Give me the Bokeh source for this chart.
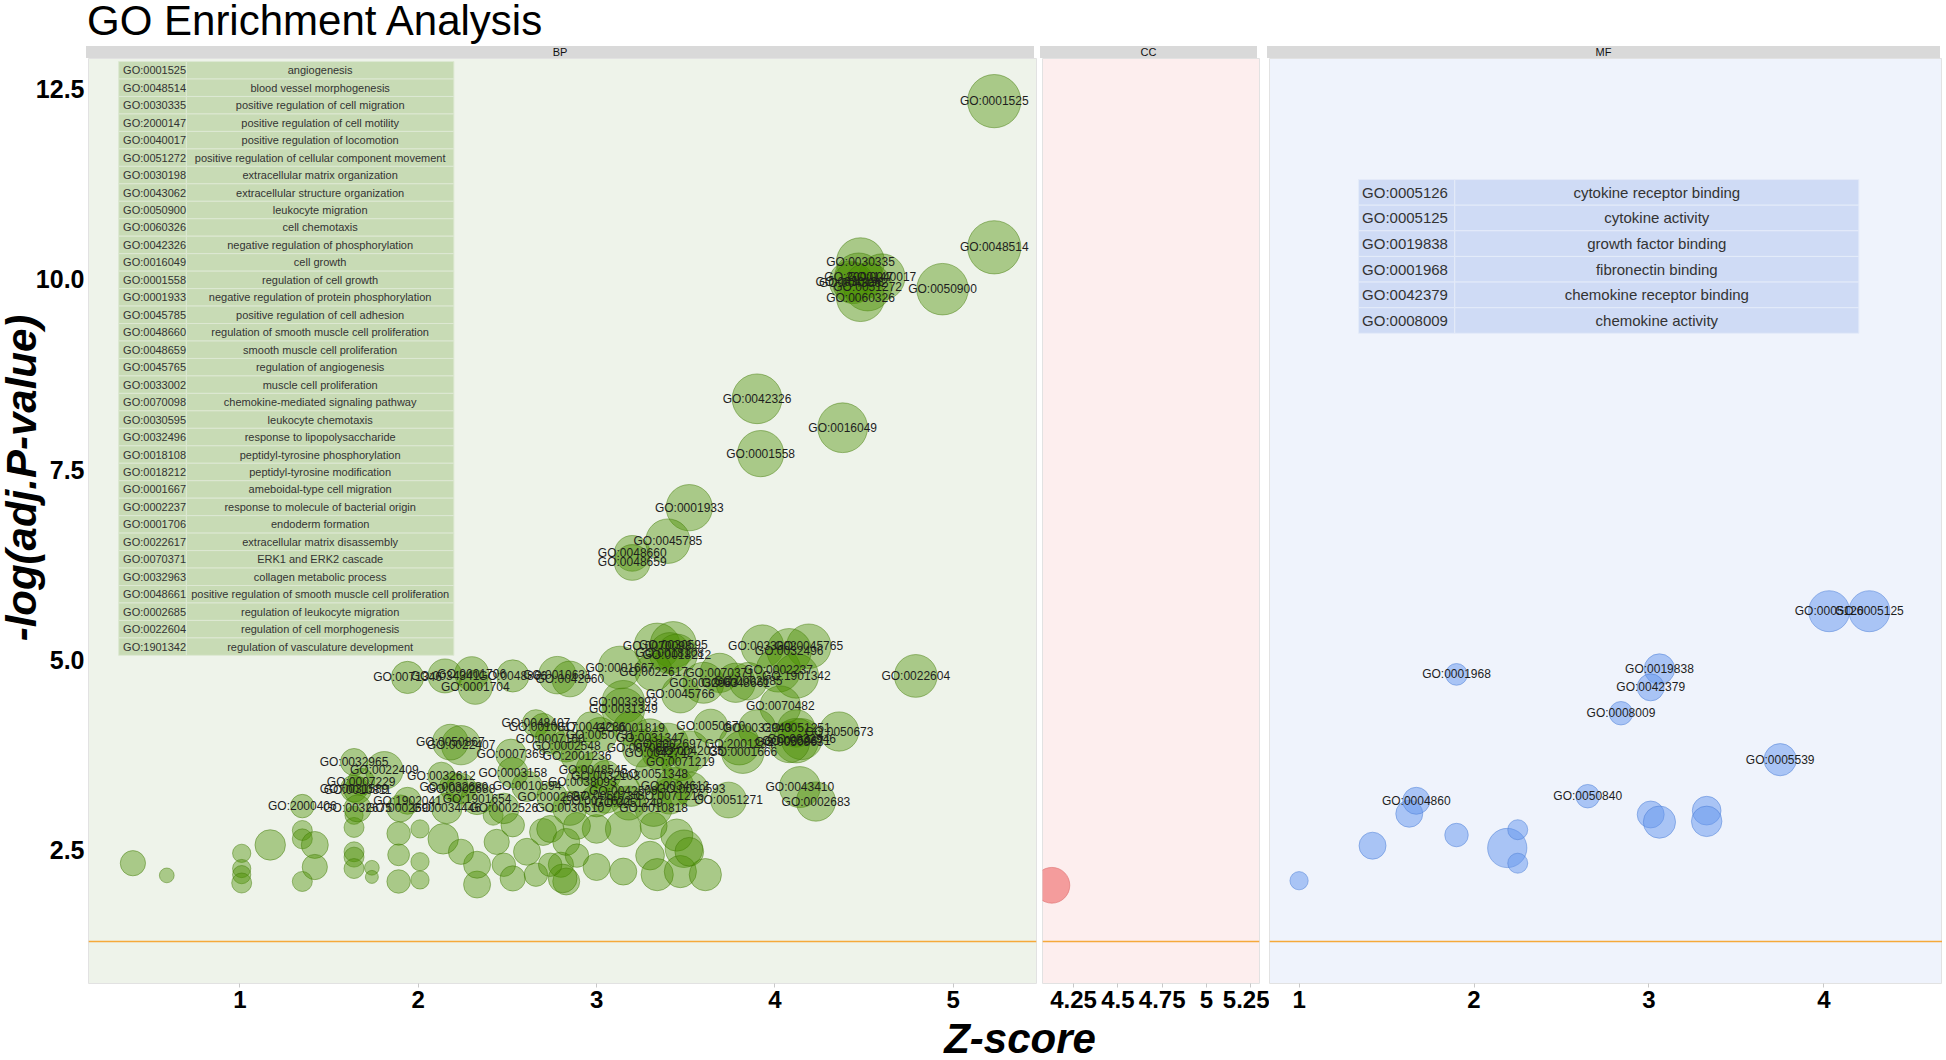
import math
from bokeh.plotting import figure
from bokeh.models import Range1d, FixedTicker, Div, Spacer, Span
from bokeh.layouts import row, column
from bokeh.embed import file_html
from bokeh.resources import INLINE
from bokeh.core.properties import value

FONT = "Liberation Sans"

# ---------------- data ----------------
# BP, labelled terms: id, z-score, -log10(adj.P), gene count
bp_id = ["GO:0001525", "GO:0048514", "GO:0030335", "GO:2000147", "GO:0040017", "GO:0030198", "GO:0043062",
         "GO:0051272", "GO:0060326", "GO:0050900", "GO:0042326", "GO:0016049", "GO:0001558", "GO:0001933",
         "GO:0045785", "GO:0048660", "GO:0048659",
         "GO:0070098", "GO:0030595", "GO:0018108", "GO:0018212", "GO:0033002", "GO:0045765", "GO:0032496",
         "GO:0001667", "GO:0022617", "GO:0070371", "GO:0032963", "GO:0048661", "GO:0002685", "GO:0002237",
         "GO:1901342", "GO:0022604", "GO:0045766", "GO:0071346", "GO:0034341", "GO:0001706", "GO:0048866",
         "GO:0001704", "GO:0010631", "GO:0042060", "GO:0033993", "GO:0031349", "GO:0070482", "GO:0050673",
         "GO:0048407", "GO:0010817", "GO:0044236", "GO:0001819", "GO:0050670", "GO:0032943", "GO:0051251",
         "GO:0050671", "GO:0032946", "GO:0050863", "GO:0007160", "GO:0050731", "GO:0002548", "GO:2001236",
         "GO:2001234", "GO:0001666", "GO:0071219", "GO:0031347", "GO:0002697", "GO:0070663", "GO:0042035",
         "GO:0042742", "GO:0022407", "GO:0050867", "GO:0007369", "GO:0032965", "GO:0022409", "GO:0032612",
         "GO:0003158", "GO:0048545", "GO:0032103", "GO:0051348", "GO:0007229", "GO:0031589", "GO:0010811",
         "GO:0010594", "GO:0043410", "GO:0002683", "GO:0051271", "GO:0034612", "GO:0030593", "GO:0071216",
         "GO:0042509", "GO:0050730", "GO:0038093", "GO:0002688", "GO:0032680", "GO:1902041", "GO:2000406",
         "GO:0032675", "GO:0034446", "GO:0002690", "GO:1901654", "GO:0002526", "GO:0030510", "GO:0010818",
         "GO:0071622", "GO:0051249", "GO:0002687"]
bp_z = [5.23, 5.23, 4.48, 4.47, 4.60, 4.42, 4.44, 4.52, 4.48, 4.94, 3.90, 4.38, 3.92, 3.52, 3.40, 3.20, 3.20,
        3.34, 3.43, 3.41, 3.45, 3.93, 4.19, 4.08, 3.13, 3.32, 3.69, 3.60, 3.78, 3.85, 4.02, 4.12, 4.79, 3.47,
        1.94, 2.15, 2.30, 2.53, 2.32, 2.78, 2.85, 3.15, 3.15, 4.03, 4.36,
        2.66, 2.70, 2.97, 3.19, 3.64, 3.90, 4.12, 4.12, 4.15, 4.08, 2.74, 3.02, 2.83, 2.89, 3.80, 3.82, 3.47,
        3.30, 3.40, 3.25, 3.52, 3.35, 2.24, 2.18, 2.52, 1.64, 1.81, 2.13, 2.53, 2.98, 3.05, 3.32, 1.68, 1.64,
        1.66, 2.61, 4.14, 4.23, 3.74, 3.44, 3.53, 3.41, 3.15, 3.05, 2.92, 2.24, 2.20, 1.94, 1.35, 1.66, 2.16,
        1.90, 2.33, 2.48, 2.85, 3.32, 3.00, 3.18, 2.75]
bp_logp = [12.34, 10.42, 10.23, 10.03, 10.03, 9.97, 9.95, 9.90, 9.76, 9.87, 8.43, 8.05, 7.71, 7.00, 6.56, 6.40,
           6.28, 5.18, 5.20, 5.09, 5.07, 5.18, 5.18, 5.12, 4.90, 4.84, 4.83, 4.70, 4.70, 4.72, 4.87, 4.79, 4.79,
           4.55, 4.77, 4.79, 4.82, 4.79, 4.64, 4.80, 4.75, 4.45, 4.35, 4.39, 4.06,
           4.17, 4.12, 4.12, 4.10, 4.13, 4.10, 4.10, 3.94, 3.96, 3.92, 3.96, 4.02, 3.87, 3.74, 3.89, 3.79, 3.66,
           3.98, 3.90, 3.84, 3.80, 3.78, 3.88, 3.92, 3.76, 3.66, 3.55, 3.48, 3.52, 3.56, 3.48, 3.50, 3.40, 3.31,
           3.29, 3.34, 3.33, 3.14, 3.16, 3.34, 3.30, 3.21, 3.28, 3.21, 3.40, 3.31, 3.33, 3.15, 3.08, 3.05, 3.05,
           3.05, 3.18, 3.05, 3.05, 3.06, 3.15, 3.12, 3.20]
bp_count = [27, 27, 24, 24, 23, 20, 20, 24, 24, 26, 25, 25, 23, 23, 22, 17, 17,
            23, 23, 20, 20, 21, 22, 22, 21, 18, 19, 20, 19, 18, 22, 22, 21, 18, 15, 16, 16, 15, 16, 18, 17, 21,
            21, 20, 19,
            12, 12, 14, 16, 16, 18, 18, 22, 20, 20, 14, 16, 15, 15, 20, 21, 18, 18, 20, 18, 20, 16, 19, 17, 14,
            12, 18, 12, 14, 16, 14, 18, 12, 12, 12, 14, 20, 19, 17, 18, 16, 17, 16, 16, 15, 14, 13, 12, 10, 12,
            14, 12, 15, 14, 16, 18, 15, 16, 14]

# BP, unlabelled terms
bp2_z = [0.40, 0.59, 1.01, 1.01, 1.01, 1.01, 1.17, 1.35, 1.35, 1.42, 1.42, 1.35, 1.64, 1.64, 1.64, 1.64, 1.64,
         1.74, 1.74, 1.89, 1.89, 1.89, 2.01, 2.01, 2.01, 2.14, 2.33, 2.33, 2.24, 2.44, 2.48, 2.53, 2.61, 2.66,
         2.80, 2.83, 2.70, 2.53, 2.42, 2.74, 2.83, 2.81, 2.74, 3.00, 3.00, 3.15, 3.15, 2.89, 3.30, 3.34, 3.45,
         3.49, 3.47, 3.61, 3.52, 3.32, 2.89]
bp2_logp = [2.33, 2.17, 2.46, 2.26, 2.18, 2.07, 2.57, 2.76, 2.65, 2.57, 2.28, 2.09, 2.96, 2.80, 2.48, 2.41, 2.26,
            2.27, 2.15, 2.72, 2.44, 2.09, 2.78, 2.35, 2.11, 2.65, 2.05, 2.31, 2.48, 2.61, 2.31, 2.13, 2.48, 2.18,
            2.31, 2.09, 2.74, 2.83, 2.96, 2.78, 2.61, 2.13, 2.31, 2.78, 2.28, 2.78, 2.22, 2.43, 2.43, 2.18, 2.70,
            2.52, 2.22, 2.18, 2.48, 2.82, 2.82]
bp2_count = [11, 5, 7, 7, 7, 8, 14, 8, 8, 12, 11, 8, 7, 8, 8, 8, 8, 5, 4, 10, 9, 10, 7, 7, 7, 14, 12, 12, 11, 11,
             10, 11, 12, 10, 11, 12, 12, 10, 8, 12, 12, 13, 10, 13, 12, 17, 12, 10, 13, 15, 15, 18, 15, 15, 13,
             12, 12]

# CC
cc_z = [4.128]
cc_logp = [2.04]
cc_count = [17]

# MF, labelled
mf_id = ["GO:0005126", "GO:0005125", "GO:0001968", "GO:0019838", "GO:0042379", "GO:0008009", "GO:0005539",
         "GO:0050840", "GO:0004860"]
mf_z = [4.03, 4.26, 1.90, 3.06, 3.01, 2.84, 3.75, 2.65, 1.67]
mf_logp = [5.64, 5.64, 4.81, 4.88, 4.64, 4.30, 3.69, 3.21, 3.15]
mf_count = [20, 20, 9, 14, 12, 10, 15, 10, 12]
# MF, unlabelled
mf2_z = [1.63, 1.00, 1.42, 1.90, 2.19, 2.25, 2.25, 3.01, 3.06, 3.33, 3.33]
mf2_logp = [2.98, 2.10, 2.56, 2.70, 2.53, 2.77, 2.33, 2.97, 2.87, 3.02, 2.88]
mf2_count = [12, 7, 12, 10, 19, 8, 8, 12, 15, 13, 14]

# tables
bp_table_id = ["GO:0001525", "GO:0048514", "GO:0030335", "GO:2000147", "GO:0040017", "GO:0051272", "GO:0030198",
               "GO:0043062", "GO:0050900", "GO:0060326", "GO:0042326", "GO:0016049", "GO:0001558", "GO:0001933",
               "GO:0045785", "GO:0048660", "GO:0048659", "GO:0045765", "GO:0033002", "GO:0070098", "GO:0030595",
               "GO:0032496", "GO:0018108", "GO:0018212", "GO:0001667", "GO:0002237", "GO:0001706", "GO:0022617",
               "GO:0070371", "GO:0032963", "GO:0048661", "GO:0002685", "GO:0022604", "GO:1901342"]
bp_table_term = ["angiogenesis", "blood vessel morphogenesis", "positive regulation of cell migration",
                 "positive regulation of cell motility", "positive regulation of locomotion",
                 "positive regulation of cellular component movement", "extracellular matrix organization",
                 "extracellular structure organization", "leukocyte migration", "cell chemotaxis",
                 "negative regulation of phosphorylation", "cell growth", "regulation of cell growth",
                 "negative regulation of protein phosphorylation", "positive regulation of cell adhesion",
                 "regulation of smooth muscle cell proliferation", "smooth muscle cell proliferation",
                 "regulation of angiogenesis", "muscle cell proliferation", "chemokine-mediated signaling pathway",
                 "leukocyte chemotaxis", "response to lipopolysaccharide", "peptidyl-tyrosine phosphorylation",
                 "peptidyl-tyrosine modification", "ameboidal-type cell migration",
                 "response to molecule of bacterial origin", "endoderm formation",
                 "extracellular matrix disassembly", "ERK1 and ERK2 cascade", "collagen metabolic process",
                 "positive regulation of smooth muscle cell proliferation", "regulation of leukocyte migration",
                 "regulation of cell morphogenesis", "regulation of vasculature development"]
mf_table_id = ["GO:0005126", "GO:0005125", "GO:0019838", "GO:0001968", "GO:0042379", "GO:0008009"]
mf_table_term = ["cytokine receptor binding", "cytokine activity", "growth factor binding", "fibronectin binding",
                 "chemokine receptor binding", "chemokine activity"]

p_cutoff = 0.05
y_ticks = [2.5, 5.0, 7.5, 10.0, 12.5]
bp_ticks = [1, 2, 3, 4, 5]
cc_ticks = [4.25, 4.5, 4.75, 5.0, 5.25]
mf_ticks = [1, 2, 3, 4]

# ---------------- layout ----------------
Y_RANGE = Range1d(0.75, 12.9)
TITLE_H = 46
STRIP_H = 12
FRAME_H = 925
AXIS_H = 36
XLAB_H = 40
YLAB_W = 32
LEFT = 86
W_BP, W_CC, W_MF = 948, 217, 673
GAP1, GAP2 = 6, 10


def px(counts):
    return [6 + 1.75 * c for c in counts]


def make_fig(xr, frame_w, bg, ticks, border_l, border_r):
    p = figure(x_range=Range1d(*xr), y_range=Y_RANGE, frame_width=frame_w, frame_height=FRAME_H,
               output_backend="svg", toolbar_location=None, background_fill_color=bg,
               border_fill_color="white", min_border_left=border_l, min_border_right=border_r,
               min_border_top=0, min_border_bottom=AXIS_H)
    p.outline_line_color = "#e2e2e2"
    p.grid.visible = False
    p.xaxis.ticker = FixedTicker(ticks=ticks)
    p.xaxis.major_label_overrides = {t: ("%g" % t) for t in ticks}
    p.xaxis.axis_line_color = None
    p.xaxis.major_tick_line_color = "#c8c8c8"
    p.xaxis.major_tick_out = 4
    p.xaxis.major_tick_in = 0
    p.xaxis.minor_tick_line_color = None
    p.xaxis.major_label_text_font = FONT
    p.xaxis.major_label_text_font_size = "24px"
    p.xaxis.major_label_text_font_style = "bold"
    p.xaxis.major_label_text_color = "#000000"
    p.xaxis.major_label_standoff = 3
    p.yaxis.visible = False
    p.add_layout(Span(location=-math.log10(p_cutoff), dimension="width", line_color="#f5a93a", line_width=1.6))
    return p


def labels(p, xs, ys, texts, size="12px"):
    p.text(x=xs, y=ys, text=texts, text_align="center", text_baseline="middle", text_font=value(FONT),
           text_font_size=size, text_color="#1e1e1e")


def table(p, ids, terms, x0, x1, x2, top, bottom, fill, line, size, pad):
    n = len(ids)
    h = (top - bottom) / n
    tops = [top - i * h for i in range(n)]
    bots = [t - h for t in tops]
    mids = [t - h / 2 for t in tops]
    p.quad(left=[x0] * n, right=[x1] * n, top=tops, bottom=bots, fill_color=fill, line_color=line, line_width=1)
    p.quad(left=[x1] * n, right=[x2] * n, top=tops, bottom=bots, fill_color=fill, line_color=line, line_width=1)
    p.text(x=[x0 + pad] * n, y=mids, text=ids, text_align="left", text_baseline="middle",
           text_font=value(FONT), text_font_size=size, text_color="#333333")
    p.text(x=[(x1 + x2) / 2] * n, y=mids, text=terms, text_align="center", text_baseline="middle",
           text_font=value(FONT), text_font_size=size, text_color="#333333")


# BP panel
bp = make_fig((0.151, 5.467), W_BP, "#eef3ea", bp_ticks, LEFT - YLAB_W, GAP1)
bp.border_fill_color = None
bp.yaxis.visible = True
bp.yaxis.ticker = FixedTicker(ticks=y_ticks)
bp.yaxis.major_label_overrides = {t: ("%.1f" % t) for t in y_ticks}
bp.yaxis.axis_line_color = None
bp.yaxis.major_tick_line_color = None
bp.yaxis.major_tick_out = 0
bp.yaxis.major_tick_in = 0
bp.yaxis.minor_tick_line_color = None
bp.yaxis.minor_tick_out = 0
bp.yaxis.major_label_text_font = FONT
bp.yaxis.major_label_text_font_size = "25px"
bp.yaxis.major_label_text_font_style = "bold"
bp.yaxis.major_label_text_color = "#000000"
bp.yaxis.major_label_standoff = 4

BP_FILL, BP_LINE = "#4b8f00", "#3d7800"
bp.scatter(bp2_z, bp2_logp, size=px(bp2_count), fill_color=BP_FILL, fill_alpha=0.42, line_color=BP_LINE,
           line_alpha=0.45)
bp.scatter(bp_z, bp_logp, size=px(bp_count), fill_color=BP_FILL, fill_alpha=0.42, line_color=BP_LINE,
           line_alpha=0.45)
labels(bp, bp_z, bp_logp, bp_id)
table(bp, bp_table_id, bp_table_term, 0.32, 0.70, 2.20, 12.86, 5.06, "#c8dbb5", "#dde8d3", "11px", 0.025)

# CC panel
cc = make_fig((4.075, 5.299), W_CC, "#fdeeee", cc_ticks, 0, GAP2)
cc.scatter(cc_z, cc_logp, size=px(cc_count), fill_color="#f08080", fill_alpha=0.75, line_color="#e07070",
           line_alpha=0.6)

# MF panel
mf = make_fig((0.831, 4.678), W_MF, "#eff3fc", mf_ticks, 0, 0)
MF_FILL, MF_LINE = "#6495ed", "#4d7fd8"
mf.scatter(mf2_z, mf2_logp, size=px(mf2_count), fill_color=MF_FILL, fill_alpha=0.5, line_color=MF_LINE,
           line_alpha=0.5)
mf.scatter(mf_z, mf_logp, size=px(mf_count), fill_color=MF_FILL, fill_alpha=0.5, line_color=MF_LINE,
           line_alpha=0.5)
labels(mf, mf_z, mf_logp, mf_id)
table(mf, mf_table_id, mf_table_term, 1.34, 1.89, 4.20, 11.31, 9.29, "#cfdbf5", "#e4ebf9", "15px", 0.02)


def strip(text, w):
    return Div(text=text, width=w, height=STRIP_H, margin=(0, 0, 0, 0),
               styles={"background-color": "#d9d9d9", "font-family": FONT, "font-size": "11px",
                       "line-height": "%dpx" % STRIP_H, "text-align": "center", "color": "#111111",
                       "overflow": "hidden", "width": "%dpx" % w, "height": "%dpx" % STRIP_H})


strips = row(Spacer(width=LEFT, height=STRIP_H), strip("BP", W_BP), Spacer(width=GAP1, height=STRIP_H),
             strip("CC", W_CC), Spacer(width=GAP2, height=STRIP_H), strip("MF", W_MF))

# rotated y-axis title, centred 22 px from the left and 420 px below the top of the panels
ylabel = Div(text=('<div style="position:absolute; left:22px; top:420px; '
                   'transform:translate(-50%,-50%) rotate(-90deg); white-space:nowrap; '
                   'font-family:\'Liberation Sans\'; font-size:42px; font-weight:bold; font-style:italic; '
                   'color:#000000; line-height:38px;">-log(adj.P-value)</div>'),
             width=YLAB_W, height=FRAME_H + AXIS_H, margin=(0, 0, 0, 0),
             styles={"position": "relative", "overflow": "visible", "z-index": "2"})

title = Div(text="GO Enrichment Analysis", width=700, height=TITLE_H, margin=(0, 0, 0, 0),
            styles={"font-family": FONT, "font-size": "42px", "line-height": "42px", "color": "#000000",
                    "white-space": "nowrap"})
xlabel = Div(text="Z-score", width=300, height=XLAB_H, margin=(0, 0, 0, 0),
             styles={"font-family": FONT, "font-size": "42px", "font-weight": "bold", "font-style": "italic",
                     "line-height": "%dpx" % XLAB_H, "text-align": "center", "color": "#000000",
                     "width": "300px"})

page = column(row(Spacer(width=87, height=TITLE_H), title),
              strips,
              row(ylabel, bp, cc, mf),
              row(Spacer(width=870, height=XLAB_H), xlabel))

open("out.html", "w").write(file_html(page, INLINE))
